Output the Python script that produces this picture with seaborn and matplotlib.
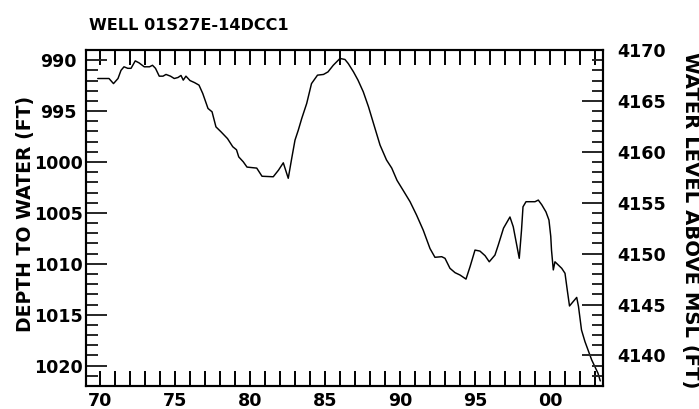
import matplotlib
matplotlib.use("Agg")
import matplotlib.pyplot as plt
import matplotlib.ticker as mticker
import numpy as np
import pandas as pd
import seaborn as sns

# Hydrograph for well 01S27E-14DCC1
well_name = "WELL 01S27E-14DCC1"
land_surface_ft = 5159  # water level above MSL = land surface - depth to water

years = [
    1969.85, 1970.60, 1970.90, 1971.20, 1971.40, 1971.60, 1971.85, 1972.07,
    1972.35, 1972.60, 1972.95, 1973.30, 1973.50, 1973.70, 1973.95, 1974.20,
    1974.40, 1974.70, 1974.95, 1975.20, 1975.40, 1975.55, 1975.73, 1976.00,
    1976.30, 1976.60, 1976.85, 1977.20, 1977.47, 1977.73, 1978.07, 1978.50,
    1978.85, 1979.10, 1979.25, 1979.55, 1979.80, 1980.45, 1980.80, 1981.55,
    1981.90, 1982.22, 1982.55, 1982.78, 1983.00, 1983.22, 1983.45, 1983.78,
    1984.10, 1984.50, 1984.90, 1985.20, 1985.55, 1986.00, 1986.33, 1986.55,
    1986.90, 1987.20, 1987.55, 1987.90, 1988.20, 1988.67, 1989.10, 1989.45,
    1989.80, 1990.20, 1990.67, 1991.10, 1991.55, 1992.00, 1992.33, 1992.78,
    1993.00, 1993.33, 1993.67, 1994.00, 1994.40, 1994.67, 1995.00, 1995.33,
    1995.67, 1995.95, 1996.33, 1996.55, 1996.90, 1997.33, 1997.55, 1997.95,
    1998.10, 1998.20, 1998.40, 1999.00, 1999.22, 1999.45, 1999.73, 1999.93,
    2000.05, 2000.10, 2000.22, 2000.33, 2000.78, 2001.00, 2001.15, 2001.30,
    2001.55, 2001.78, 2001.90, 2002.10, 2002.33, 2002.78, 2003.20, 2003.35,
]
depth_to_water_ft = [
    991.80, 991.80, 992.30, 991.80, 991.00, 990.65, 990.80, 990.80,
    990.07, 990.26, 990.65, 990.65, 990.50, 990.80, 991.57, 991.57,
    991.40, 991.57, 991.80, 991.70, 991.50, 991.96, 991.57, 992.00,
    992.20, 992.45, 993.27, 994.74, 995.07, 996.55, 997.04, 997.70,
    998.50, 998.80, 999.50, 999.98, 1000.50, 1000.60, 1001.40, 1001.45,
    1000.80, 1000.08, 1001.60, 999.65, 997.85, 996.87, 995.72, 994.25,
    992.30, 991.47, 991.40, 991.15, 990.50, 989.83, 989.93, 990.33,
    991.15, 991.96, 993.10, 994.58, 996.05, 998.34, 999.80, 1000.60,
    1001.80, 1002.76, 1003.90, 1005.20, 1006.70, 1008.50, 1009.36, 1009.30,
    1009.46, 1010.44, 1010.87, 1011.10, 1011.50, 1010.28, 1008.65, 1008.75,
    1009.20, 1009.80, 1009.14, 1008.16, 1006.50, 1005.40, 1006.36, 1009.46,
    1006.70, 1004.40, 1003.90, 1003.90, 1003.74, 1004.20, 1004.90, 1005.70,
    1007.30, 1008.65, 1010.60, 1009.80, 1010.44, 1010.93, 1012.57, 1014.14,
    1013.70, 1013.30, 1014.20, 1016.50, 1017.64, 1019.44, 1020.75, 1021.50,
]

depth_limits = (1022, 989)
year_limits = (1969.067, 2003.533)

df = pd.DataFrame({"year": years, "depth": depth_to_water_ft})

sns.set_style("white")
plt.rcParams["font.family"] = ["DejaVu Sans"]
plt.rcParams["font.weight"] = "bold"

fig = plt.figure(figsize=(6.99, 4.09), dpi=100)
ax = fig.add_axes([86 / 699, 1 - 386 / 409, 517 / 699, 336 / 409])

sns.lineplot(data=df, x="year", y="depth", ax=ax, color="black",
             linewidth=1.05, estimator=None, sort=False)

ax.set_xlim(*year_limits)
ax.set_ylim(*depth_limits)
ax.set_xlabel("")
ax.set_ylabel("")

for sp in ax.spines.values():
    sp.set_visible(True)
    sp.set_color("black")
    sp.set_linewidth(1.5)

# x axis: labelled every 5 years, ticks every year on top and bottom
ax.xaxis.set_major_locator(mticker.MultipleLocator(5))
ax.xaxis.set_minor_locator(mticker.MultipleLocator(1))
ax.xaxis.set_major_formatter(mticker.FuncFormatter(lambda v, p: f"{int(round(v)) % 100:02d}"))
ax.tick_params(axis="x", which="both", direction="in", length=10.5, width=1.4,
               top=True, bottom=True, color="black")
ax.tick_params(axis="x", which="major", labelsize=12.6, pad=4, labelcolor="black")

# left axis: depth to water, labels centred in the margin
ax.yaxis.set_major_locator(mticker.MultipleLocator(5))
ax.yaxis.set_minor_locator(mticker.MultipleLocator(1))
ax.tick_params(axis="y", which="major", direction="in", length=15, width=1.4,
               left=True, right=False, labelsize=12.6, pad=20, labelcolor="black")
ax.tick_params(axis="y", which="minor", direction="in", length=8.5, width=1.4,
               left=True, right=False)
for lab in ax.get_yticklabels():
    lab.set_horizontalalignment("center")

# right axis: water level above mean sea level
ax2 = ax.twinx()
ax2.set_ylim(land_surface_ft - depth_limits[0], land_surface_ft - depth_limits[1])
ax2.yaxis.set_major_locator(mticker.MultipleLocator(5))
ax2.yaxis.set_minor_locator(mticker.MultipleLocator(1))
ax2.tick_params(axis="y", which="major", direction="in", length=15, width=1.4,
                labelsize=12.6, pad=10, labelcolor="black")
ax2.tick_params(axis="y", which="minor", direction="in", length=8, width=1.4)
for sp in ax2.spines.values():
    sp.set_linewidth(1.5)
    sp.set_color("black")
ax2.grid(False)

for lab in ax.get_xticklabels() + ax.get_yticklabels() + ax2.get_yticklabels():
    lab.set_fontweight("bold")

fig.text(89 / 699, 1 - 30 / 409, well_name, fontsize=11.6, fontweight="bold",
         ha="left", va="baseline", color="black")
fig.text(25 / 699, 1 - 214 / 409, "DEPTH TO WATER (FT)", fontsize=13.6,
         fontweight="bold", rotation=90, ha="center", va="center", color="black")
fig.text(690 / 699, 1 - 220 / 409, "WATER LEVEL ABOVE MSL (FT)", fontsize=14.1,
         fontweight="bold", rotation=270, ha="center", va="center", color="black")

fig.savefig("out.png", dpi=100, facecolor="white")
